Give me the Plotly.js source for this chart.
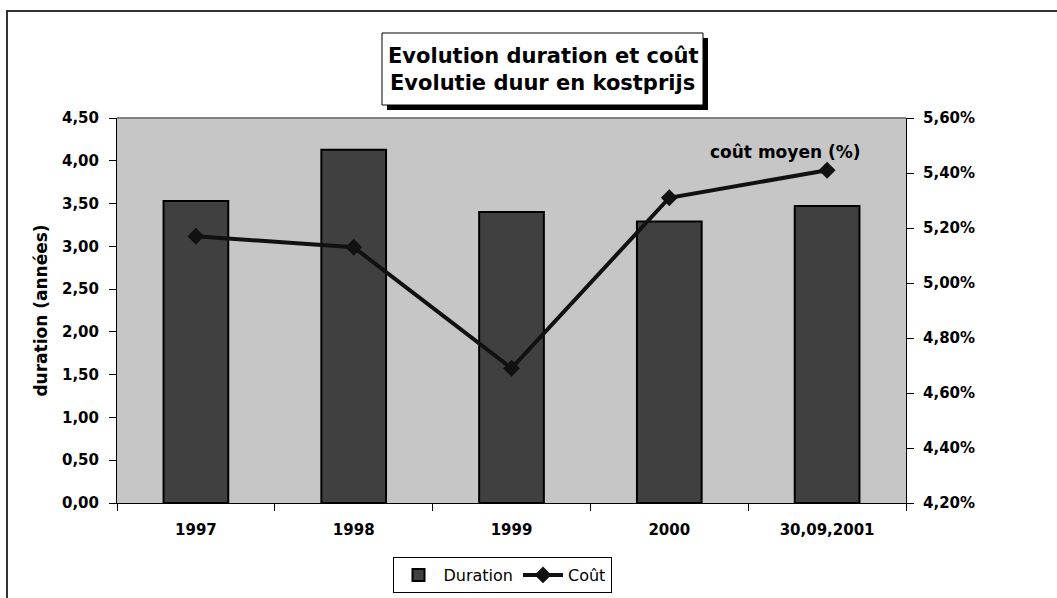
<!DOCTYPE html>
<html>
<head>
<meta charset="utf-8">
<script src="https://cdn.plot.ly/plotly-3.0.1.min.js"></script>
<style>
html,body{margin:0;padding:0;background:#fff;}
#chart{width:1057px;height:598px;}
</style>
</head>
<body>
<div id="chart"></div>
<script>
var categories = ["1997", "1998", "1999", "2000", "30,09,2001"];
var duration = [3.53, 4.13, 3.40, 3.29, 3.47];
var cout = [0.0517, 0.0513, 0.0469, 0.0531, 0.0541];

var W = 1057, H = 598;
var L = 117, R = 906, T = 118, B = 503;
function px(x){ return (x - L) / (R - L); }
function py(y){ return (B - y) / (B - T); }

var FONT = "'DejaVu Sans', Arial, sans-serif";

var traces = [
  {
    type: "bar",
    name: "Duration",
    x: categories,
    y: duration,
    marker: {color: "#404040", line: {color: "#000000", width: 2}},
    yaxis: "y"
  },
  {
    type: "scatter",
    mode: "lines+markers",
    name: "Coût",
    x: categories,
    y: cout,
    yaxis: "y2",
    line: {color: "#111111", width: 4},
    marker: {symbol: "diamond", size: 13, color: "#111111"}
  }
];

var layout = {
  width: W, height: H,
  margin: {l: L, r: W - R, t: T, b: H - B, pad: 0, autoexpand: false},
  paper_bgcolor: "#ffffff",
  plot_bgcolor: "#c6c6c6",
  separators: ",.",
  font: {family: FONT, color: "#000000"},
  bargap: 0.59,
  showlegend: true,
  legend: {
    orientation: "h",
    x: px(502), xanchor: "center",
    y: py(557), yanchor: "top",
    bgcolor: "#ffffff",
    bordercolor: "#000000", borderwidth: 1,
    font: {family: FONT, size: 16, color: "#000000"},
    itemwidth: 40,
    tracegroupgap: 0
  },
  xaxis: {
    type: "category",
    showline: true, linecolor: "#000000", linewidth: 1,
    ticks: "outside", ticklen: 7, tickcolor: "#000000",
    tickson: "boundaries",
    showgrid: false, zeroline: false,
    tickfont: {family: FONT, size: 15, weight: "bold", color: "#000000"},
    ticklabelstandoff: 13
  },
  yaxis: {
    range: [0, 4.5], dtick: 0.5, tick0: 0,
    tickformat: ".2f",
    showline: true, linecolor: "#000000", linewidth: 1,
    ticks: "outside", ticklen: 7, tickcolor: "#000000",
    showgrid: false, zeroline: false,
    tickfont: {family: FONT, size: 15, weight: "bold", color: "#000000"},
    ticklabelstandoff: 7,
    title: {text: "duration (années)", font: {family: FONT, size: 17, weight: "bold", color: "#000000"}, standoff: 10}
  },
  yaxis2: {
    overlaying: "y", side: "right",
    range: [0.042, 0.056], dtick: 0.002, tick0: 0.042,
    tickformat: ".2%",
    showline: true, linecolor: "#000000", linewidth: 1,
    ticks: "outside", ticklen: 7, tickcolor: "#000000",
    showgrid: false, zeroline: false,
    tickfont: {family: FONT, size: 15, weight: "bold", color: "#000000"},
    ticklabelstandoff: 6
  },
  shapes: [
    {type: "rect", xref: "paper", yref: "paper", x0: px(7), x1: px(1080), y0: py(11), y1: py(640),
     line: {color: "#333333", width: 2}, fillcolor: "rgba(0,0,0,0)", layer: "below"},
    {type: "line", xref: "paper", yref: "paper", x0: 0, x1: 1, y0: 1, y1: 1,
     line: {color: "#808080", width: 2}, layer: "above"},
    {type: "rect", xref: "paper", yref: "paper", x0: px(387), x1: px(708), y0: py(38), y1: py(110),
     line: {width: 0}, fillcolor: "#000000", layer: "above"},
    {type: "rect", xref: "paper", yref: "paper", x0: px(382), x1: px(703), y0: py(33), y1: py(105),
     line: {color: "#000000", width: 1}, fillcolor: "#ffffff", layer: "above"}
  ],
  annotations: [
    {xref: "paper", yref: "paper", x: px(542.5), y: py(56), xanchor: "center", yanchor: "middle",
     text: "Evolution duration et coût", showarrow: false,
     font: {family: FONT, size: 21, weight: "bold", color: "#000000"}},
    {xref: "paper", yref: "paper", x: px(542.5), y: py(83), xanchor: "center", yanchor: "middle",
     text: "Evolutie duur en kostprijs", showarrow: false,
     font: {family: FONT, size: 21, weight: "bold", color: "#000000"}},
    {xref: "paper", yref: "paper", x: px(785), y: py(152), xanchor: "center", yanchor: "middle",
     text: "coût moyen (%)", showarrow: false,
     font: {family: FONT, size: 17, weight: "bold", color: "#000000"}}
  ]
};

Plotly.newPlot("chart", traces, layout, {displayModeBar: false, staticPlot: true});
</script>
</body>
</html>
